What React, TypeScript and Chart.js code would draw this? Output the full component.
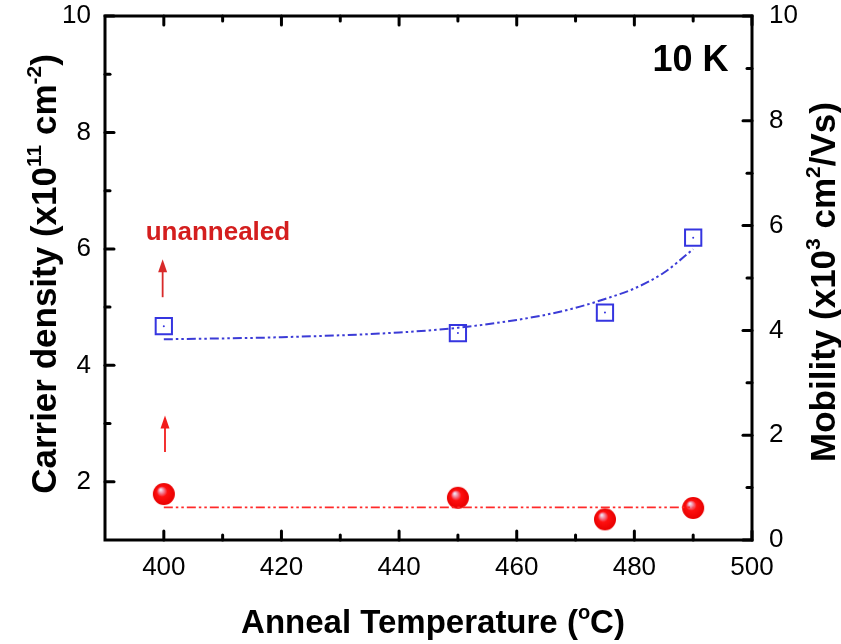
import React, { useEffect, useRef } from 'react';
import { Chart, registerables } from 'chart.js';
Chart.register(...registerables);

// ---- data ----
const densityTemps = [400, 450, 475, 490];
const densityValues = [1.79, 1.725, 1.355, 1.55];
const densityFitTemps = [400, 490];
const densityFitValues = [1.56, 1.56];
const mobilityTemps = [400, 450, 475, 490];
const mobilityValues = [4.08, 3.95, 4.34, 5.77];
const mobilityFitTemps = [400, 420, 440, 450, 460, 465, 470, 475, 480, 485, 490];
const mobilityFitValues = [3.83, 3.87, 3.96, 4.05, 4.2, 4.3, 4.43, 4.6, 4.8, 5.1, 5.55];
const xMajorTicks = [400, 420, 440, 460, 480, 500];
const xMinorTicks = [410, 430, 450, 470, 490];
const leftMajorTicks = [2, 4, 6, 8, 10];
const leftMinorTicks = [3, 5, 7, 9];
const rightMajorTicks = [0, 2, 4, 6, 8, 10];
const rightMinorTicks = [1, 3, 5, 7, 9];

const FONT = '"Liberation Sans", Arial, Helvetica, sans-serif';

type Part = { t: string; sup?: boolean };

function drawRich(ctx: CanvasRenderingContext2D, parts: Part[], cx: number, cy: number, rot: number, size: number, supSize: number) {
  ctx.save();
  ctx.translate(cx, cy);
  ctx.rotate(rot);
  const main = `bold ${size}px ${FONT}`;
  const sup = `bold ${supSize}px ${FONT}`;
  let total = 0;
  const widths: number[] = [];
  for (const p of parts) {
    ctx.font = p.sup ? sup : main;
    const w = ctx.measureText(p.t).width;
    widths.push(w);
    total += w;
  }
  let x = -total / 2;
  ctx.textAlign = 'left';
  ctx.textBaseline = 'alphabetic';
  ctx.fillStyle = '#000';
  const base = size * 0.36;
  parts.forEach((p, i) => {
    ctx.font = p.sup ? sup : main;
    ctx.fillText(p.t, x, p.sup ? base - size * 0.42 : base);
    x += widths[i];
  });
  ctx.restore();
}

function makeSphere(r: number): HTMLCanvasElement {
  const c = document.createElement('canvas');
  c.width = c.height = 2 * r + 2;
  const g = c.getContext('2d')!;
  const cx = r + 1, cy = r + 1;
  const grad = g.createRadialGradient(cx - r * 0.3, cy - r * 0.4, r * 0.05, cx, cy, r);
  grad.addColorStop(0, '#f2e4f0');
  grad.addColorStop(0.22, '#f27a90');
  grad.addColorStop(0.45, '#ff1010');
  grad.addColorStop(1, '#e80000');
  g.fillStyle = grad;
  g.beginPath();
  g.arc(cx, cy, r, 0, Math.PI * 2);
  g.fill();
  return c;
}

const framePlugin = {
  id: 'framePlugin',
  afterDatasetsDraw(chart: any) {
    const ctx: CanvasRenderingContext2D = chart.ctx;
    const { left, right, top, bottom } = chart.chartArea;
    const xs = chart.scales.x, yl = chart.scales.yL, yr = chart.scales.yR;
    ctx.save();
    ctx.strokeStyle = '#000';
    ctx.lineWidth = 3;
    ctx.lineCap = 'round';
    const tick = (x1: number, y1: number, x2: number, y2: number) => {
      ctx.beginPath(); ctx.moveTo(x1, y1); ctx.lineTo(x2, y2); ctx.stroke();
    };
    const MJ = 9, MN = 5;
    xMajorTicks.forEach(v => { const p = xs.getPixelForValue(v); tick(p, bottom, p, bottom - MJ); tick(p, top, p, top + MJ); });
    xMinorTicks.forEach(v => { const p = xs.getPixelForValue(v); tick(p, bottom, p, bottom - MN); tick(p, top, p, top + MN); });
    leftMajorTicks.forEach(v => { const p = yl.getPixelForValue(v); tick(left, p, left + MJ, p); });
    leftMinorTicks.forEach(v => { const p = yl.getPixelForValue(v); tick(left, p, left + MN, p); });
    rightMajorTicks.forEach(v => { const p = yr.getPixelForValue(v); tick(right, p, right - MJ, p); });
    rightMinorTicks.forEach(v => { const p = yr.getPixelForValue(v); tick(right, p, right - MN, p); });
    ctx.lineCap = 'square';
    ctx.strokeRect(left, top, right - left, bottom - top);

    // arrows
    const arrow = (xv: number, y1v: number, y2v: number, color: string) => {
      const x = xs.getPixelForValue(xv);
      const y1 = yl.getPixelForValue(y1v);
      const y2 = yl.getPixelForValue(y2v);
      ctx.strokeStyle = color;
      ctx.fillStyle = color;
      ctx.lineWidth = 1.8;
      ctx.lineCap = 'butt';
      ctx.beginPath(); ctx.moveTo(x, y1); ctx.lineTo(x, y2 + 8); ctx.stroke();
      ctx.beginPath(); ctx.moveTo(x, y2); ctx.lineTo(x - 4.5, y2 + 13); ctx.lineTo(x + 4.5, y2 + 13); ctx.closePath(); ctx.fill();
    };
    arrow(399.8, 5.17, 5.82, '#d82a2a');
    arrow(400.2, 2.51, 3.14, '#f21c1c');

    // annotation texts
    ctx.textAlign = 'center';
    ctx.textBaseline = 'alphabetic';
    ctx.fillStyle = '#d41e1e';
    ctx.font = `bold 26px ${FONT}`;
    ctx.fillText('unannealed', xs.getPixelForValue(409.2), yl.getPixelForValue(6.16));
    ctx.fillStyle = '#000';
    ctx.font = `bold 36px ${FONT}`;
    ctx.textAlign = 'right';
    ctx.textBaseline = 'middle';
    ctx.fillText('10 K', xs.getPixelForValue(496.0), yl.getPixelForValue(9.22));

    // axis titles
    drawRich(ctx, [{ t: 'Anneal Temperature (' }, { t: 'o', sup: true }, { t: 'C)' }], 433, 621, 0, 33, 20);
    drawRich(ctx, [{ t: 'Carrier density (x10' }, { t: '11', sup: true }, { t: ' cm' }, { t: '-2', sup: true }, { t: ')' }], 43, 274, -Math.PI / 2, 35, 21);
    drawRich(ctx, [{ t: 'Mobility (x10' }, { t: '3', sup: true }, { t: ' cm' }, { t: '2', sup: true }, { t: '/Vs)' }], 822, 282, -Math.PI / 2, 35, 21);
    ctx.restore();
  },
};

export default function App() {
  const ref = useRef<HTMLCanvasElement>(null);
  useEffect(() => {
    document.body.style.margin = '0';
    const sphere = makeSphere(11);
    const tickFont = { family: FONT, size: 26 };
    const zeroPad = (s: any) => { s.paddingTop = 0; s.paddingBottom = 0; s.paddingLeft = 0; s.paddingRight = 0; };
    const chart = new Chart(ref.current!, {
      type: 'scatter',
      data: {
        datasets: [
          {
            label: 'mobility fit',
            data: mobilityFitTemps.map((x, i) => ({ x, y: mobilityFitValues[i] })),
            yAxisID: 'yR',
            showLine: true,
            borderColor: '#3b3bd6',
            borderWidth: 2,
            borderDash: [9, 3, 2.5, 3, 2.5, 3],
            pointRadius: 0,
            cubicInterpolationMode: 'monotone',
          } as any,
          {
            label: 'density fit',
            data: densityFitTemps.map((x, i) => ({ x, y: densityFitValues[i] })),
            yAxisID: 'yL',
            showLine: true,
            borderColor: '#ff2a2a',
            borderWidth: 1.6,
            borderDash: [9, 3, 2.5, 3, 2.5, 3],
            pointRadius: 0,
          },
          {
            label: 'mobility',
            data: mobilityTemps.map((x, i) => ({ x, y: mobilityValues[i] })),
            yAxisID: 'yR',
            pointStyle: 'rect',
            pointRadius: 11.5,
            pointBorderColor: '#3535e0',
            pointBackgroundColor: 'rgba(0,0,0,0)',
            pointBorderWidth: 2,
          },
          {
            label: 'mobility center',
            data: mobilityTemps.map((x, i) => ({ x, y: mobilityValues[i] })),
            yAxisID: 'yR',
            pointStyle: 'circle',
            pointRadius: 1,
            pointBorderWidth: 0,
            pointBackgroundColor: '#3535e0',
          },
          {
            label: 'density',
            data: densityTemps.map((x, i) => ({ x, y: densityValues[i] })),
            yAxisID: 'yL',
            pointStyle: sphere as any,
            pointRadius: 11,
          },
        ],
      },
      options: {
        animation: false,
        responsive: false,
        events: [],
        layout: { padding: { top: 16, left: 0, right: 0, bottom: 0 } },
        plugins: { legend: { display: false }, tooltip: { enabled: false } },
        scales: {
          x: {
            type: 'linear',
            position: 'bottom',
            min: 390,
            max: 500,
            grid: { display: false, drawTicks: false },
            border: { display: false },
            ticks: { font: tickFont, color: '#000', padding: 12, maxRotation: 0, autoSkip: false },
            afterBuildTicks: (s: any) => { s.ticks = xMajorTicks.map(v => ({ value: v })); },
            afterFit: (s: any) => { s.height = 104; zeroPad(s); },
          },
          yL: {
            type: 'linear',
            position: 'left',
            min: 1,
            max: 10,
            grid: { display: false, drawTicks: false },
            border: { display: false },
            ticks: { font: tickFont, color: '#000', padding: 14, autoSkip: false },
            afterBuildTicks: (s: any) => { s.ticks = leftMajorTicks.map(v => ({ value: v })); },
            afterFit: (s: any) => { s.width = 105; zeroPad(s); },
          },
          yR: {
            type: 'linear',
            position: 'right',
            min: 0,
            max: 10,
            grid: { display: false, drawTicks: false },
            border: { display: false },
            ticks: { font: tickFont, color: '#000', padding: 17, autoSkip: false },
            afterBuildTicks: (s: any) => { s.ticks = rightMajorTicks.map(v => ({ value: v })); },
            afterFit: (s: any) => { s.width = 89; zeroPad(s); },
          },
        },
      },
      plugins: [framePlugin],
    });
    return () => chart.destroy();
  }, []);
  return <canvas ref={ref} width={841} height={644} style={{ display: 'block' }} />;
}
